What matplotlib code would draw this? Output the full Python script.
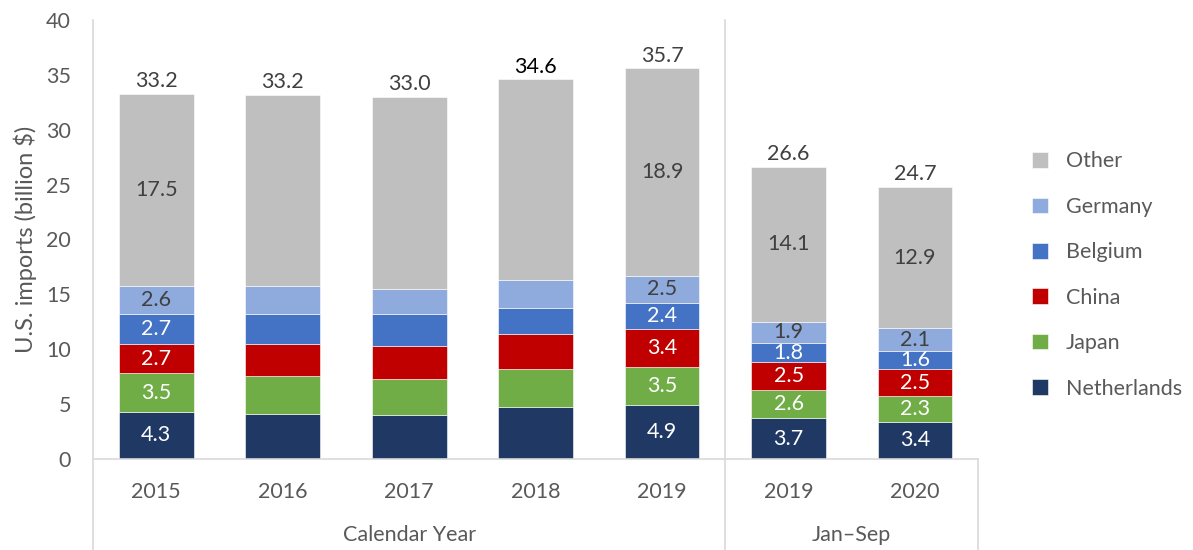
import matplotlib
matplotlib.use("Agg")
import matplotlib.pyplot as plt
import numpy as np

plt.rcParams["font.family"] = ["Lato", "DejaVu Sans"]

# data (billion $)
years = ["2015", "2016", "2017", "2018", "2019", "2019", "2020"]
groups = ["Calendar Year", "Jan\u2013Sep"]
countries = ["Netherlands", "Japan", "China", "Belgium", "Germany", "Other"]
netherlands = [4.3, 4.1, 4.0, 4.7, 4.9, 3.7, 3.4]
japan = [3.5, 3.5, 3.3, 3.5, 3.5, 2.6, 2.3]
china = [2.7, 2.9, 3.0, 3.2, 3.4, 2.5, 2.5]
belgium = [2.7, 2.7, 2.9, 2.4, 2.4, 1.8, 1.6]
germany = [2.6, 2.6, 2.3, 2.5, 2.5, 1.9, 2.1]
other = [17.5, 17.4, 17.5, 18.3, 18.9, 14.1, 12.9]
totals = [33.2, 33.2, 33.0, 34.6, 35.7, 26.6, 24.7]
labeled = [True, False, False, False, True, True, True]

series = [netherlands, japan, china, belgium, germany, other]
colors = ["#1F3864", "#70AD47", "#C00000", "#4472C4", "#8FAADC", "#BFBFBF"]
text_colors = ["white", "white", "white", "white", "#404040", "#404040"]
grid_c = "#D9D9D9"
txt_c = "#595959"
fs = 15.5

fig = plt.figure(figsize=(11.93, 5.5), dpi=100)
ax = fig.add_axes([0.078, 0.1655, 0.742, 0.7981])

x = np.arange(len(years))
bottom = np.zeros(len(years))
handles = []
for vals, col, tc, name in zip(series, colors, text_colors, countries):
    bars = ax.bar(x, vals, 0.59, bottom=bottom, color=col, edgecolor="white",
                  linewidth=0.4, label=name)
    handles.append(bars)
    for i, b in enumerate(bars):
        if labeled[i]:
            ax.text(b.get_x() + b.get_width() / 2, bottom[i] + vals[i] / 2,
                    f"{vals[i]:.1f}", ha="center", va="center", color=tc, fontsize=fs)
    bottom += np.array(vals)

for i, t in enumerate(totals):
    ax.annotate(f"{t:.1f}", (x[i], bottom[i]), xytext=(0, 2), textcoords="offset points",
                ha="center", va="bottom", fontsize=fs,
                color="black" if i == 3 else "#404040")

ax.set_xlim(-0.5, 6.5)
ax.set_ylim(0, 40)
ax.set_yticks(range(0, 41, 5))
ax.tick_params(axis="y", length=0, labelsize=fs, labelcolor=txt_c, pad=16)
ax.set_xticks([])
for s in ["top", "right", "bottom", "left"]:
    ax.spines[s].set_visible(False)
ax.set_ylabel("U.S. imports (billion $)", fontsize=17, color=txt_c, labelpad=6)

# axis lines and group separators
tr = ax.get_xaxis_transform()
ax.plot([-0.5, 6.5], [0, 0], transform=tr, color=grid_c, lw=1.2, clip_on=False)
ax.plot([-0.5, -0.5], [-0.21, 1.0], transform=tr, color=grid_c, lw=1.2, clip_on=False)
ax.plot([4.5, 4.5], [-0.21, 1.0], transform=tr, color=grid_c, lw=1.2, clip_on=False)
ax.plot([6.5, 6.5], [-0.21, 0], transform=tr, color=grid_c, lw=1.2, clip_on=False)

for i, y in enumerate(years):
    ax.text(x[i], -0.075, y, transform=tr, ha="center", va="center", fontsize=fs, color=txt_c)
ax.text(2, -0.173, groups[0], transform=tr, ha="center", va="center", fontsize=fs, color=txt_c)
ax.text(5.5, -0.173, groups[1], transform=tr, ha="center", va="center", fontsize=fs, color=txt_c)

leg = fig.legend(handles[::-1], countries[::-1], loc="center left",
                 bbox_to_anchor=(0.849, 0.5), frameon=False, fontsize=fs,
                 labelspacing=1.18, handlelength=0.75, handleheight=0.75, handletextpad=0.8)
for t in leg.get_texts():
    t.set_color(txt_c)

fig.savefig("out.png", dpi=100)
plt.close(fig)
